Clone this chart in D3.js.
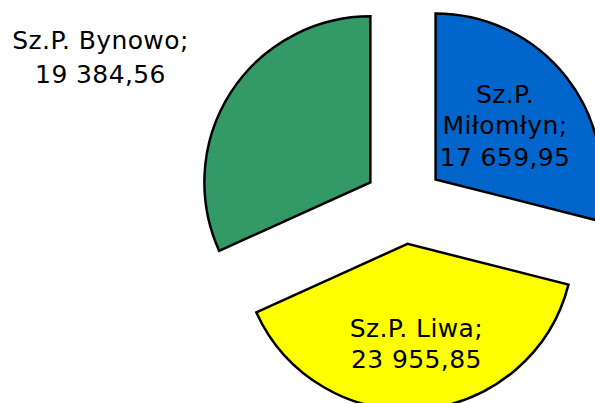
<!DOCTYPE html>
<html>
<head>
<meta charset="utf-8">
<script src="https://cdn.jsdelivr.net/npm/d3@7"></script>
<style>
  body { margin: 0; background: #fff; }
  svg { display: block; }
</style>
</head>
<body>
<div class="chart"></div>
<script>
// chart data
const names = ['Sz.P. Miłomłyn', 'Sz.P. Liwa', 'Sz.P. Bynowo'];
const values = [17659.95, 23955.85, 19384.56];
const valueLabels = ['17 659,95', '23 955,85', '19 384,56'];
const colors = ['#0066cc', '#ffff00', '#339966'];

const dims = { width: 595, height: 403, radius: 166 };
const cent = { x: 404, y: 204 };
const explode = 40;

const svg = d3.select('.chart')
    .append('svg')
    .attr('width', dims.width)
    .attr('height', dims.height);

const graph = svg.append('g')
    .attr('transform', `translate(${cent.x}, ${cent.y})`);

const pie = d3.pie()
    .sort(null)
    .value(d => d.value);

const arcPath = d3.arc()
    .outerRadius(dims.radius)
    .innerRadius(0);

const data = names.map((n, i) => ({ name: n, value: values[i], label: valueLabels[i], color: colors[i] }));
const arcs = pie(data);

// push each slice out along its middle angle
const offset = d => {
    const a = (d.startAngle + d.endAngle) / 2;
    return [Math.sin(a) * explode, -Math.cos(a) * explode];
};

const slices = graph.selectAll('g.slice')
    .data(arcs)
    .enter()
    .append('g')
        .attr('class', 'slice')
        .attr('transform', d => `translate(${offset(d)})`);

slices.append('path')
    .attr('d', arcPath)
    .attr('fill', d => d.data.color)
    .attr('stroke', '#000')
    .attr('stroke-width', 2.5)
    .attr('stroke-linejoin', 'miter');

// label placement: fraction of radius along the mid angle, or an outside spot
const labelPos = [
    { r: 0.53, lh: 31.5, lines: d => [d.data.name.split(' ')[0], d.data.name.split(' ')[1] + ';', d.data.label] },
    { r: 0.6, lh: 31, lines: d => [d.data.name + ';', d.data.label] },
    { abs: [100.5, 57], lh: 33.5, lines: d => [d.data.name + ';', d.data.label] }
];

arcs.forEach((d, i) => {
    const p = labelPos[i];
    let x, y;
    if (p.abs) {
        [x, y] = p.abs;
    } else {
        const a = (d.startAngle + d.endAngle) / 2;
        const o = offset(d);
        x = cent.x + o[0] + Math.sin(a) * dims.radius * p.r;
        y = cent.y + o[1] - Math.cos(a) * dims.radius * p.r;
    }
    const lines = p.lines(d);
    const txt = svg.append('text')
        .attr('text-anchor', 'middle')
        .attr('font-family', "'DejaVu Sans', sans-serif")
        .attr('font-size', 25)
        .attr('letter-spacing', 0.4)
        .attr('fill', '#000');
    lines.forEach((l, k) => {
        txt.append('tspan')
            .attr('x', x)
            .attr('y', y + (k - (lines.length - 1) / 2) * p.lh + 9)
            .text(l);
    });
});
</script>
</body>
</html>
